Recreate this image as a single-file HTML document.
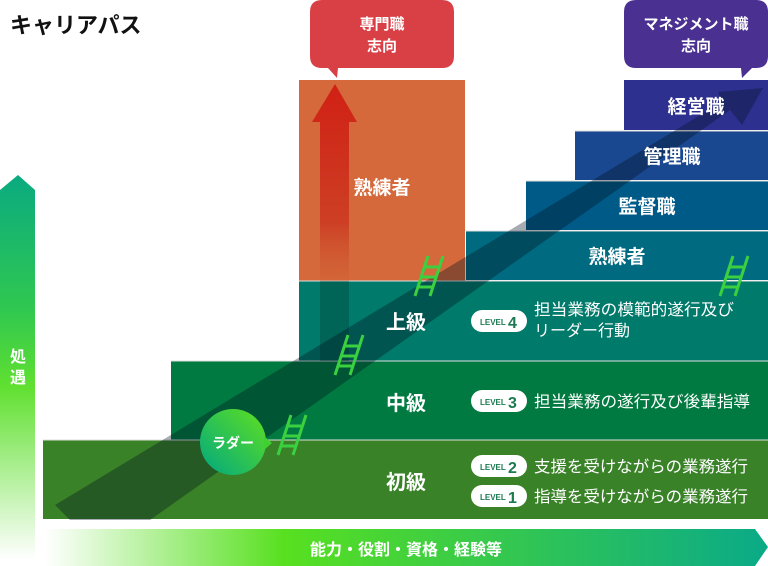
<!DOCTYPE html>
<html><head><meta charset="utf-8"><style>
body{margin:0;width:768px;height:566px;overflow:hidden;background:#fff;font-family:"Liberation Sans","Noto Sans CJK JP",sans-serif}
</style></head><body>
<svg width="768" height="566" viewBox="0 0 768 566" xmlns="http://www.w3.org/2000/svg" style="position:absolute;left:0;top:0">
<defs>
<linearGradient id="lv" x1="0" y1="0" x2="0" y2="1"><stop offset="0" stop-color="#0aaa80"/><stop offset="0.35" stop-color="#30c850"/><stop offset="0.55" stop-color="#60e030"/><stop offset="1" stop-color="#ffffff"/></linearGradient>
<linearGradient id="bh" x1="0" y1="0" x2="1" y2="0"><stop offset="0" stop-color="#ffffff"/><stop offset="0.33" stop-color="#58e020"/><stop offset="1" stop-color="#0aaa88"/></linearGradient>
<linearGradient id="ra" x1="0" y1="0" x2="0" y2="1"><stop offset="0" stop-color="#d01810"/><stop offset="0.7" stop-color="#cc3a22"/><stop offset="1" stop-color="#cc5a30" stop-opacity="0.3"/></linearGradient>
<linearGradient id="cg" x1="0" y1="1" x2="1" y2="0"><stop offset="0" stop-color="#00a880"/><stop offset="1" stop-color="#60e020"/></linearGradient>
</defs>
<text x="10" y="33" font-size="22" font-weight="bold" fill="#111">キャリアパス</text>
<polygon points="0,190 18,175 35,190 35,560 0,560" fill="url(#lv)"/>
<text x="18" y="362" font-size="16" font-weight="bold" fill="#fff" text-anchor="middle">処</text>
<text x="18" y="383" font-size="16" font-weight="bold" fill="#fff" text-anchor="middle">遇</text>
<polygon points="45,529 755,529 768,547 755,566 45,566" fill="url(#bh)"/>
<text x="406" y="555" font-size="16" font-weight="bold" fill="#fff" text-anchor="middle">能力・役割・資格・経験等</text>
<rect x="43" y="440" width="725" height="79" fill="#3a8228"/>
<rect x="171" y="361" width="597" height="79" fill="#007a40"/>
<rect x="299" y="281" width="469" height="80" fill="#007a6a"/>
<rect x="299" y="80" width="166" height="201" fill="#d5693b"/>
<rect x="466" y="231" width="302" height="49" fill="#006b80"/>
<rect x="526" y="181" width="242" height="49" fill="#005a87"/>
<rect x="575" y="131" width="193" height="49" fill="#1a4890"/>
<rect x="624" y="80" width="144" height="50" fill="#2e3090"/>
<g stroke="#ddd" stroke-width="1"><line x1="43" y1="440" x2="768" y2="440"/><line x1="171" y1="361" x2="768" y2="361"/><line x1="299" y1="281" x2="768" y2="281"/><line x1="466" y1="231" x2="768" y2="231"/><line x1="526" y1="181" x2="768" y2="181"/><line x1="575" y1="131" x2="768" y2="131"/></g>
<polygon points="320,122 312,122 335,84 357,122 349,122 349,281 320,281" fill="url(#ra)" opacity="0.9"/>
<rect x="320" y="281" width="29" height="80" fill="#002820" opacity="0.25"/>
<polygon points="70,520 150,520 730,110 742,125 763,88 718,92 722,102 55,505" fill="#001020" opacity="0.35"/>
<path d="M322,0 H442 Q454,0 454,12 V56 Q454,68 442,68 H338 L337,78 L328,68 H322 Q310,68 310,56 V12 Q310,0 322,0Z" fill="#d94045"/>
<text x="382" y="29" font-size="15" font-weight="bold" fill="#fff" text-anchor="middle">専門職</text>
<text x="382" y="51" font-size="15" font-weight="bold" fill="#fff" text-anchor="middle">志向</text>
<path d="M636,0 H756 Q768,0 768,12 V56 Q768,68 756,68 H752 L742,78 L741,68 H636 Q624,68 624,56 V12 Q624,0 636,0Z" fill="#4a3090"/>
<text x="696" y="29" font-size="15" font-weight="bold" fill="#fff" text-anchor="middle">マネジメント職</text>
<text x="696" y="51" font-size="15" font-weight="bold" fill="#fff" text-anchor="middle">志向</text>
<g font-size="19" font-weight="bold" fill="#fff" text-anchor="middle">
<text x="382" y="194">熟練者</text>
<text x="617" y="263">熟練者</text>
<text x="647" y="213">監督職</text>
<text x="672" y="163">管理職</text>
<text x="696" y="113">経営職</text>
<text x="406" y="329" font-size="20">上級</text>
<text x="406" y="410" font-size="20">中級</text>
<text x="406" y="489" font-size="20">初級</text>
</g>
<g stroke="#3ad040" stroke-width="3" fill="none">
<path d="M415,296 L428,256 M430,296 L443,256 M418,287 H432 M421,277 H435 M424,267 H438"/>
<path d="M335,375 L348,335 M350,375 L363,335 M338,366 H352 M341,356 H355 M344,346 H358"/>
<path d="M278,455 L291,415 M293,455 L306,415 M281,446 H295 M284,436 H298 M287,426 H301"/>
<path d="M720,296 L733,256 M735,296 L748,256 M723,287 H737 M726,277 H740 M729,267 H743"/>
</g>
<circle cx="233" cy="442" r="33" fill="url(#cg)"/>
<polygon points="264,436 272,443 264,450" fill="#40d030"/>
<text x="233" y="448" font-size="14" font-weight="bold" fill="#fff" text-anchor="middle">ラダー</text>
<g font-weight="bold">
<rect x="471" y="310" width="56" height="22" rx="11" fill="#fff"/><text x="480" y="325" font-size="8" fill="#1a7a50">LEVEL</text><text x="508" y="328" font-size="16" fill="#1a7a50">4</text>
<rect x="471" y="390" width="56" height="22" rx="11" fill="#fff"/><text x="480" y="405" font-size="8" fill="#1a7a50">LEVEL</text><text x="508" y="408" font-size="16" fill="#1a7a50">3</text>
<rect x="471" y="455" width="56" height="22" rx="11" fill="#fff"/><text x="480" y="470" font-size="8" fill="#1a7a50">LEVEL</text><text x="508" y="473" font-size="16" fill="#1a7a50">2</text>
<rect x="471" y="485" width="56" height="22" rx="11" fill="#fff"/><text x="480" y="500" font-size="8" fill="#1a7a50">LEVEL</text><text x="508" y="503" font-size="16" fill="#1a7a50">1</text>
</g>
<g font-size="16" fill="#fff">
<text x="534" y="315" textLength="200" lengthAdjust="spacingAndGlyphs">担当業務の模範的遂行及び</text>
<text x="534" y="336" textLength="96" lengthAdjust="spacingAndGlyphs">リーダー行動</text>
<text x="534" y="407" textLength="216" lengthAdjust="spacingAndGlyphs">担当業務の遂行及び後輩指導</text>
<text x="534" y="472" textLength="214" lengthAdjust="spacingAndGlyphs">支援を受けながらの業務遂行</text>
<text x="534" y="502" textLength="214" lengthAdjust="spacingAndGlyphs">指導を受けながらの業務遂行</text>
</g>
</svg>
</body></html>
